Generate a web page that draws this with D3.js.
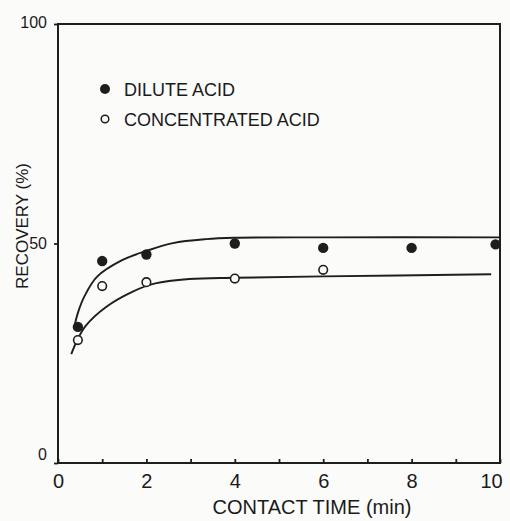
<!DOCTYPE html>
<html>
<head>
<meta charset="utf-8">
<script src="https://cdn.jsdelivr.net/npm/d3@7"></script>
<style>
  html, body { margin: 0; padding: 0; background: #fbfbfa; }
  svg { display: block; }
  text { font-family: "Liberation Sans", Arial, sans-serif; fill: #1a1a1a; }
</style>
</head>
<body>
<svg id="chart" width="510" height="521"></svg>
<script>
// ---- data ----
const diluteTime = [0.45, 1, 2, 4, 6, 8, 9.9];
const diluteRecovery = [31, 46, 47.5, 50, 49, 49, 49.8];
const concTime = [0.45, 1, 2, 4, 6];
const concRecovery = [28, 40.3, 41.2, 42, 44];

// fitted curves as drawn in the figure
const diluteCurveTime = [0.38, 0.45, 0.6, 0.88, 1.45, 2, 2.6, 3.35, 4, 6, 10];
const diluteCurveRec = [31.5, 34.2, 38.0, 42.4, 46.2, 48.3, 50.1, 51.0, 51.3, 51.4, 51.4];
const concCurveTime = [0.3, 0.45, 0.63, 1.08, 1.68, 2.2, 2.97, 4, 6, 9.8];
const concCurveRec = [24.8, 28.3, 31.3, 35.5, 39, 40.9, 41.9, 42.2, 42.5, 43];

const xTicks = [0, 1, 2, 3, 4, 5, 6, 7, 8, 9, 10];
const yTicks = [0, 50, 100];
const legendLabels = ["DILUTE ACID", "CONCENTRATED ACID"];
const xTitle = "CONTACT TIME (min)";
const yTitle = "RECOVERY (%)";

// ---- layout ----
const svg = d3.select("#chart");
const x = d3.scaleLinear().domain([0, 10]).range([58, 500]);
const y = d3.scaleLinear().domain([0, 100]).range([463, 24]);
const ink = "#1e1e1e";

// frame
svg.append("rect")
  .attr("x", x(0)).attr("y", y(100))
  .attr("width", x(10) - x(0)).attr("height", y(0) - y(100))
  .attr("fill", "none").attr("stroke", ink).attr("stroke-width", 2);

// x axis
const gx = svg.append("g").attr("transform", `translate(0,${y(0)})`)
  .call(d3.axisBottom(x).tickValues(xTicks).tickSize(-4).tickPadding(11)
    .tickFormat(d => d % 2 === 0 ? d : ""));
gx.select(".domain").remove();
gx.selectAll(".tick line").attr("stroke", ink).attr("stroke-width", 1.8);
gx.selectAll(".tick text").attr("font-size", 20).attr("fill", ink)
  .style("font-family", "'Liberation Sans', Arial, sans-serif")
  .attr("dx", d => d === 10 ? -9 : 0);

// y axis
const gy = svg.append("g").attr("transform", `translate(${x(0)},0)`)
  .call(d3.axisLeft(y).tickValues(yTicks).tickSize(4).tickPadding(7));
gy.select(".domain").remove();
gy.selectAll(".tick line").attr("stroke", ink).attr("stroke-width", 1.8);
gy.selectAll(".tick text").attr("font-size", 16).attr("fill", ink)
  .style("font-family", "'Liberation Sans', Arial, sans-serif")
  .attr("dy", d => d === 0 ? "-0.2em" : (d === 100 ? "0.2em" : "0.32em"));

// axis titles
svg.append("text").attr("x", 312).attr("y", 514).attr("text-anchor", "middle")
  .attr("font-size", 20).text(xTitle);
svg.append("text")
  .attr("transform", `translate(28,${226}) rotate(-90)`)
  .attr("text-anchor", "middle").attr("font-size", 17).text(yTitle);

// curves
const line = d3.line().x(d => x(d[0])).y(d => y(d[1])).curve(d3.curveCatmullRom.alpha(0.5));
svg.append("path").datum(d3.zip(diluteCurveTime, diluteCurveRec))
  .attr("d", line).attr("fill", "none").attr("stroke", ink).attr("stroke-width", 1.9);
svg.append("path").datum(d3.zip(concCurveTime, concCurveRec))
  .attr("d", line).attr("fill", "none").attr("stroke", ink).attr("stroke-width", 1.9);

// points
svg.append("g").selectAll("circle").data(d3.zip(concTime, concRecovery)).join("circle")
  .attr("cx", d => x(d[0])).attr("cy", d => y(d[1])).attr("r", 4.3)
  .attr("fill", "#fbfbfa").attr("stroke", ink).attr("stroke-width", 1.6);
svg.append("g").selectAll("circle").data(d3.zip(diluteTime, diluteRecovery)).join("circle")
  .attr("cx", d => x(d[0])).attr("cy", d => y(d[1])).attr("r", 5.2)
  .attr("fill", ink);

// legend
const lg = svg.append("g");
lg.append("circle").attr("cx", 105).attr("cy", 89).attr("r", 5).attr("fill", ink);
lg.append("circle").attr("cx", 105).attr("cy", 119).attr("r", 3.8)
  .attr("fill", "none").attr("stroke", ink).attr("stroke-width", 1.5);
lg.selectAll("text.lab").data(legendLabels).join("text").attr("class", "lab")
  .attr("x", 124).attr("y", (d, i) => 96 + i * 30)
  .attr("font-size", 18).text(d => d);
</script>
</body>
</html>
